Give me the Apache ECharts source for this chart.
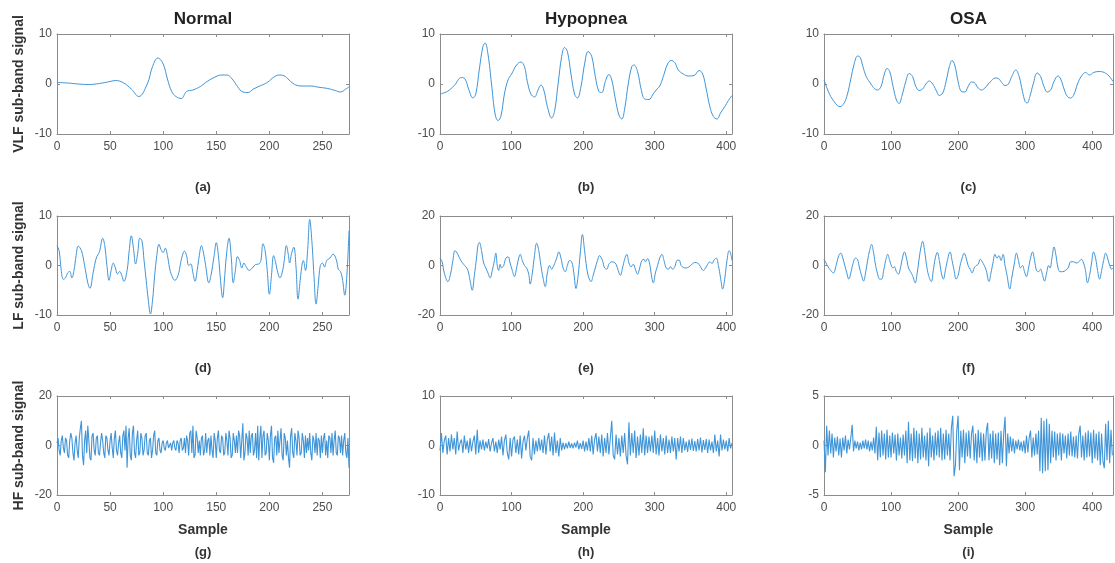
<!DOCTYPE html>
<html>
<head>
<meta charset="utf-8">
<script src="https://cdn.jsdelivr.net/npm/echarts@6/dist/echarts.min.js"></script>
<style>
html,body{margin:0;padding:0;background:#fff;}
#main{width:1115px;height:563px;}
</style>
</head>
<body>
<div id="main"></div>
<script>
// column titles, row names, panel letters
var colTitles = ['Normal', 'Hypopnea', 'OSA'];
var rowNames = ['VLF sub-band signal', 'LF sub-band signal', 'HF sub-band signal'];
var panelTags = ['(a)', '(b)', '(c)', '(d)', '(e)', '(f)', '(g)', '(h)', '(i)'];

// sample length of each record (x axis end)
var sampleEnd = [275, 408, 431];
var xTickStep = [50, 100, 100];
// y limits per row/column
var yLimit = [[10, 10, 10], [10, 20, 20], [20, 10, 5]];

// VLF sub-band, [sample, value]
var vlfNormal = [[0,0.3],[10,0.2],[20,0],[30,-0.1],[40,0.1],[50,0.5],[55,0.7],[62,0.3],[70,-1],[77,-2.5],[85,0],[90,3.5],[95,5.2],[100,4],[104,1],[108,-1.5],[112,-2.5],[117,-2.9],[122,-1.5],[128,-1.2],[135,-0.5],[140,0.3],[148,1.3],[155,1.8],[160,1.8],[165,1],[170,-0.5],[175,-1.6],[180,-1.7],[185,-1],[192,-0.3],[198,0.3],[205,1.5],[210,1.8],[215,1.5],[220,0.5],[225,-0.2],[230,-0.4],[240,-0.4],[245,-0.6],[255,-0.9],[262,-1.3],[267,-1.6],[272,-1],[275,-0.6]];
var vlfHypo = [[0,-2],[10,-1.5],[20,-0.3],[30,1.3],[35,1],[40,-1],[46,-2.8],[50,-2],[55,3],[60,7.5],[63,8.2],[67,6],[72,0],[77,-6],[81,-7.3],[85,-6.5],[90,-2],[95,0.8],[100,2],[107,3.8],[113,4.4],[118,3.5],[122,0.5],[127,-2],[132,-2.6],[137,-1.2],[141,-0.2],[145,-1.2],[150,-4.5],[156,-6.8],[160,-5.5],[165,0],[170,5.5],[174,7.3],[178,6.5],[183,2],[188,-2],[192,-2.8],[197,-0.5],[202,4],[207,6.5],[212,5.5],[217,1.5],[222,-1.5],[226,-1.7],[231,0.5],[236,1.9],[240,0.8],[245,-3],[250,-6.2],[254,-7],[258,-5],[263,0],[268,3.5],[271,3.8],[276,2.5],[281,-1],[286,-3],[292,-3.1],[297,-2.2],[302,-1.2],[307,-0.4],[312,1.5],[318,4],[323,4.7],[328,4.3],[333,2.8],[340,2],[347,1.6],[355,1.7],[362,2.7],[367,2],[372,-1],[377,-4.5],[382,-6.5],[387,-7],[392,-5.8],[398,-4.5],[403,-3.3],[408,-2.3]];
var vlfOsa = [[0,0.8],[5,-1],[10,-2.5],[15,-3.5],[20,-4.3],[24,-4.5],[30,-3.8],[35,-2],[40,1],[45,4],[50,5.6],[54,5.3],[58,3.5],[63,1.5],[70,0],[75,-0.9],[80,-1.2],[85,-0.5],[90,2],[94,3.1],[98,2.5],[103,-0.5],[108,-3.2],[112,-3.9],[116,-2.5],[122,0.5],[127,2.1],[132,1.5],[137,-0.5],[142,-1.3],[147,-1],[152,0],[157,0.6],[162,0],[167,-1.2],[172,-2.3],[177,-1.8],[182,0.5],[187,3.5],[191,4.7],[195,3.8],[200,0.5],[205,-1.5],[210,-1.6],[215,-0.5],[220,0.4],[224,0.3],[230,-0.8],[235,-1.2],[240,-0.8],[245,0],[250,0.7],[255,1.2],[260,1.1],[265,0.3],[270,-0.3],[275,0],[280,1.5],[286,2.8],[291,1.5],[296,-1.5],[300,-3.5],[303,-3.8],[307,-2.5],[312,0],[318,2.2],[323,1.5],[328,-0.5],[333,-1.6],[338,-1.2],[343,0.5],[349,1.6],[353,1],[358,-1],[363,-2.5],[368,-2.8],[373,-2],[378,0],[384,1.6],[390,2.3],[396,1.8],[402,2.3],[410,2.5],[418,2.3],[425,1.6],[431,0.5]];

// LF sub-band, [sample, value]
var lfNormal = [[0,4],[2,3],[4,-1],[6,-2.8],[8,-2.5],[10,-1.5],[12,-1.2],[14,-2.5],[16,-1],[18,2],[20,3.9],[23,3],[26,0],[29,-3.5],[31,-4.6],[34,-1.5],[37,1.5],[40,2.8],[43,5.5],[45,4],[47,0],[49,-3],[51,-1],[53,0.5],[55,-0.5],[57,-1.7],[59,-1.2],[61,-2],[63,-3.2],[66,-1],[68,3],[70,6],[72,3.5],[74,0.3],[76,2.5],[78,5.5],[80,5],[82,1],[84,-3],[86,-7],[88,-9.8],[90,-7],[92,-2],[94,2],[96,4.3],[98,3.2],[100,2.6],[102,3.5],[104,2],[106,-0.5],[108,-2],[111,-3],[114,-2],[116,0],[118,2],[120,2.9],[122,2],[124,0],[126,0.3],[128,-1.5],[130,-3.2],[132,-1],[134,2],[136,4],[138,2.5],[140,0],[143,-3.5],[145,-2],[148,2],[150,4.6],[152,2],[154,-3],[156,-6.5],[158,-2],[160,3],[162,5.5],[164,2],[166,-3.5],[168,-1],[170,1.8],[172,1],[174,-0.5],[176,0.5],[178,-0.2],[181,-1],[184,-0.5],[187,0.2],[190,0.3],[192,1],[194,4.4],[196,3],[198,-1],[200,-5.8],[202,-2],[204,2],[206,0.5],[208,-1.5],[210,-2.5],[212,-1.5],[214,1],[216,4],[218,2],[219,0.5],[221,2.5],[223,3.7],[225,0],[227,-6.8],[229,-3],[231,0.5],[232,1],[234,-1],[236,3],[238,9.3],[240,5],[242,-2],[244,-7.8],[246,-4],[248,0],[250,0.5],[252,-0.3],[254,1],[257,1.5],[260,2.3],[263,1.2],[265,-0.8],[267,-1.2],[269,-3],[271,-6],[273,-2],[275,7]];
var lfHypo = [[0,3],[3,1.5],[6,-3],[11,-6.5],[15,-3],[18,2],[21,6],[25,4.5],[29,2],[33,0.5],[36,-0.5],[39,-2],[42,-6],[45,-10],[48,-4],[51,3],[53,8],[55,9.3],[58,6],[61,1],[64,-1],[67,-3],[70,-5],[73,-2],[76,2],[78,5],[80,0],[82,-2],[84,0.5],[86,-1],[89,0],[92,3],[95,3.5],[98,1],[101,-2],[104,-4.5],[107,-1],[110,3],[112,4.5],[115,2],[118,0],[121,-1],[124,-3.5],[126,-7.5],[129,-3],[132,4],[135,9],[138,6],[141,0],[144,-5],[147,-8.5],[150,-3],[153,0],[156,-1.5],[159,0],[163,3],[166,5.5],[169,3],[172,-1],[175,-2.5],[178,0],[181,2],[184,1.5],[187,-3],[190,-9.3],[193,-4],[196,5],[199,12.5],[202,6],[205,-1],[208,-5],[211,-6.5],[214,-4],[217,-1],[220,2],[223,4],[227,2],[230,-1],[233,-1.5],[236,0.5],[240,1.5],[243,1.3],[246,0.5],[249,-2],[252,-4],[255,-1],[258,2.5],[261,4.5],[264,1],[267,-0.5],[270,0.5],[273,-1.5],[276,-3.5],[279,-1],[282,2],[285,2.5],[287,1.5],[290,2.8],[293,0.5],[296,-5],[298,-7],[301,-3],[304,0],[307,3],[310,4.5],[313,2],[316,-1],[319,-1.5],[322,-0.5],[325,-1.5],[328,-0.5],[331,2],[334,2.2],[337,0],[340,-0.8],[344,-1],[348,-0.5],[352,0.5],[356,1.2],[360,1],[364,-0.5],[368,-2],[371,-1],[374,0.5],[377,1.5],[380,0.8],[383,2.2],[386,3],[389,0],[392,-5],[395,-9.5],[398,-5],[401,2],[404,6],[406,5],[408,2]];
var lfOsa = [[0,2.5],[3,1],[6,-0.5],[10,-2],[14,-3],[18,0],[22,4],[25,5],[28,3],[31,0],[34,-3],[37,-5.5],[40,-3],[43,0.5],[47,3],[50,2.5],[53,-1],[56,-4],[59,-6.3],[62,-3],[65,2],[68,6],[71,8.5],[74,5],[77,0],[80,-3.5],[83,-5.5],[86,-5.5],[89,-2],[92,2],[95,4.5],[98,2],[101,-0.5],[103,-1],[105,-0.5],[108,-2.5],[111,-3.5],[114,-1],[117,3],[120,5.5],[123,3],[126,-1],[129,-2.5],[132,-4],[136,-7],[139,-3],[142,3],[145,8],[147,9.8],[150,6],[153,0],[156,-4],[160,-6.5],[163,-2],[166,3],[169,5.3],[172,2],[175,-3],[178,-5.5],[181,-2],[184,2],[188,5.5],[191,2],[194,-2],[197,-5.5],[200,-4],[203,0],[206,3],[209,5],[212,3],[215,0],[218,-1.5],[221,-3],[224,-1],[227,0],[230,0.5],[233,2.5],[236,1.5],[239,0],[242,-2],[246,-6.5],[249,-3],[252,1],[255,4.5],[258,3],[261,4],[264,2],[267,4.5],[270,0],[273,-4],[277,-9.5],[280,-5],[284,1],[287,5],[290,2],[293,-1],[296,0],[299,-2.5],[302,-4.5],[305,-1],[308,3],[311,5.5],[314,2],[317,-2],[320,-2.5],[323,-1.5],[326,-4],[329,-6.3],[332,-3],[335,0],[337,-1],[340,3],[343,7.5],[346,4],[349,-1],[352,-2.5],[356,-2.5],[360,-2],[364,-1],[368,1.5],[372,1.5],[376,1],[380,1.5],[384,2.5],[387,1],[390,-2],[393,-7],[396,-4],[399,1],[402,5.5],[405,3],[408,-2],[411,-5.5],[414,-2],[417,2],[420,5],[423,3],[426,0],[429,-1.5],[431,-1]];

// HF sub-band, values read every sample (Normal) / every 2nd sample
var hfNormalStep = 1;
var hfNormal = [
	1,3,-2,-4,2,4,-1,-3,3,2,  -4,-5,2,5,3,-3,-6,1,4,-2,
	-5,3,7,10,-4,-8,2,6,-3,8,  2,-5,-6,4,5,-2,-4,3,4,-3,
	-4,1,5,2,-3,-5,4,3,-2,-4,  2,5,-1,-5,3,6,-2,-4,1,4,
	-3,-5,4,6,-2,8,-9,3,7,-4,  -6,5,8,-3,-5,2,6,-4,-3,5,
	3,-4,-2,4,5,-3,-4,2,3,-5,  -2,4,6,-3,-4,2,3,-2,-3,1,
	2,-1,-2,1,2,-1,0,1,-2,1,  2,-1,-2,2,1,-3,2,3,-2,-1,
	3,-3,4,2,-4,5,6,-3,8,-5,  -4,6,3,-3,2,-4,3,4,-4,-2,
	5,-3,2,3,-4,4,-2,-5,5,2,  -5,3,6,-2,-3,4,3,-4,-3,5,
	2,-4,6,3,-5,-4,5,2,-3,4,  -3,6,4,-5,2,9,-6,-3,5,3,
	-4,6,-3,4,5,-4,-2,5,-5,8,  -6,3,8,-5,4,6,-4,-3,5,2,
	-6,4,8,-5,-7,3,4,-4,6,-3,  2,7,-4,-6,5,3,-4,2,-5,-9,
	4,7,-3,-5,5,2,-4,6,3,-4,  -3,5,2,-5,4,-3,3,-2,5,-3,
	-6,4,2,-3,5,-4,3,2,-5,4,  -3,3,5,-4,2,-5,4,3,-3,5,
	-4,2,6,-3,-4,4,3,-3,4,-4,  2,5,-3,-5,3,-9];
var hfHypoStep = 2;
var hfHypo = [
	-1,2.5,-1.5,1,2,-1.8,1.5,-1.2,2.2,-0.8,  1.5,-1.8,2.8,-1,0.5,1.2,-1.5,2,-0.8,1,
	-1.5,1.5,-1.2,0.8,2,-1.8,3.2,-1.5,1,-0.8,  1.2,-1,0.8,-0.6,1.3,-1.2,0.5,1.5,-1.2,0.8,
	-1.5,1.2,-0.8,1.8,-2,1,2.2,-1.5,-2.8,1.5,  -2.2,1.2,1.8,-1.5,1.2,-1.8,2,-2.6,0.8,2,
	-1,1.5,3,-2.2,-3,1.5,-1.8,1,-1.2,1.5,  -1,1.2,-1.5,2,-1.8,1.2,2.5,-1.2,1.8,-2,
	2.6,-1.5,1,-2.2,1.5,-1,0.6,-0.8,0.5,-0.6,  0.8,-0.5,0.4,-0.6,0.6,-0.4,1,-0.8,0.5,-0.7,
	1,-1.2,0.8,-1,1.5,-1.2,2,-1.8,1.2,2.5,  -1.2,1.8,-1.5,2.2,-2.2,1.5,-1.5,2.5,-1.8,1.5,
	5,-2,-2.8,2.2,-1.8,1.5,-2.2,2,-1.5,2.5,  -2,-3.8,4.7,-2,2.5,-1.5,3,-2.5,1.8,-2,
	2.2,-1.5,3.5,-2,2,-1.5,1.8,-1.2,2,-1.5,  3,-1.8,1.5,-2,2.2,-1.2,1.5,-1.8,2,-1.5,
	1.2,-1.5,1.8,-1.2,1.5,-2.8,1.5,-1.2,1.8,-1.5,  1.5,-1,0.8,-1.3,1.2,-0.9,1.4,-1.1,0.9,-1.2,
	1.3,-1,1.6,-1.4,1.1,-0.9,1.3,-1.5,1.2,-1,  0.8,-1.5,2.2,-1.2,1,-2.2,2.2,-1,1.2,-0.8,
	1,-1.2,1.5,-0.6,0.5];
var hfOsaStep = 2;
var hfOsa = [
	0.5,-2.7,2,-1,1.5,-0.8,1.2,-1.2,0.8,-0.6,  0.9,-1,0.7,-1.2,0.8,-0.5,1,-0.8,0.6,-0.4,
	0.8,2.1,-0.6,0.5,-0.3,0.4,-0.5,0.3,-0.4,0.5,  -0.3,0.6,-0.4,0.5,-0.6,0.4,-0.5,0.8,-0.8,1.9,
	-1.5,1.3,-1.2,1.5,-1,1.2,-1.4,1.6,-1.2,1,  -1.2,1.3,-0.8,1.1,-1.5,1.2,-1,0.8,-1.3,1.1,
	-1,1.5,-1.8,2.4,-1.5,1.2,-1.6,1.8,-1.3,1.5,  -1.8,1.2,-1.4,1.8,-1.2,1,-1.5,1.3,-2.1,1.8,
	-1.2,1,-1.5,1.3,-1,1.5,-1.2,1.8,-1.5,1.2,  -1.4,1.6,-1,1.2,-1.5,1.8,3,-3.1,-2,1.5,
	3,-2.5,1.5,-1.2,1.6,-1.8,1.3,-1.1,1.5,-1.3,  1.2,2,-1.5,1.2,-1.8,1.6,-1.2,1.3,-1.6,1.2,
	-1.5,1.4,2.3,-1.5,1.2,-1.3,1.5,-1.8,1.2,-1.4,  1.3,-2,1.5,-1.8,1.2,2.9,-2.1,1.2,-0.8,0.9,
	-0.6,0.7,-0.8,0.5,-0.4,0.6,-0.5,0.4,-0.6,0.5,  -0.8,1,-0.7,0.8,1.5,-1.2,0.8,-1,1.2,-0.9,
	1.5,-2.6,2.8,-2.8,2.5,-2.6,2.7,-2.5,2.2,-1.8,  1.5,-1.2,1.4,-1.5,1.2,-1,1.3,-1.5,1.2,-0.8,
	1,-1.3,1.2,-1,1.4,-1.1,0.9,-1.2,1,-1.3,  1.2,2,-1.2,1,-1.5,1.3,-1.2,1.5,-1.1,1.3,
	-1.8,1.6,-1.3,1.2,-1.5,1.4,-2,1.2,-1.6,-2.3,  2.2,-1.5,2.5,-1.8,1.6,-1];

var FONT = '"Liberation Sans", Arial, sans-serif';
var LINE = '#3f95d8';
var FRAME = '#8c8c8c';
var LABEL = '#4d4d4d';

// box positions of the 3 columns / 3 rows (px)
var colLeft = [57, 440, 824];
var colWidth = [292, 292, 289];
var rowTop = [34, 216, 396];
var rowHeight = [100, 99, 99];

function stepPairs(vals, step){
	var out = [];
	for(var i=0;i<vals.length;i++){
		out.push([i*step, vals[i]]);
	}
	return out;
}

var panelData = [
	vlfNormal, vlfHypo, vlfOsa,
	lfNormal, lfHypo, lfOsa,
	stepPairs(hfNormal, hfNormalStep), stepPairs(hfHypo, hfHypoStep), stepPairs(hfOsa, hfOsaStep)
];

var grids = [], xAxes = [], yAxes = [], series = [], texts = [];

for(var r=0;r<3;r++){
	for(var c=0;c<3;c++){
		var k = r*3+c;
		var lim = yLimit[r][c];
		grids.push({left: colLeft[c], top: rowTop[r], width: colWidth[c], height: rowHeight[r], containLabel: false});

		var xb = {
			type: 'value', gridIndex: k, min: 0, max: sampleEnd[c], interval: xTickStep[c], position: 'bottom',
			axisLine: {show: true, onZero: false, lineStyle: {color: FRAME, width: 1}},
			axisTick: {show: true, inside: true, length: 3, lineStyle: {color: FRAME}},
			axisLabel: {show: true, color: LABEL, fontSize: 12, fontFamily: FONT, margin: 7, showMaxLabel: false},
			splitLine: {show: false}
		};
		if(r==2){
			xb.name = 'Sample';
			xb.nameLocation = 'middle';
			xb.nameGap = 28;
			xb.nameTextStyle = {color: '#333', fontSize: 14, fontWeight: 'bold', fontFamily: FONT};
		}
		xAxes.push(xb);

		var yl = {
			type: 'value', gridIndex: k, min: -lim, max: lim, interval: lim, position: 'left',
			axisLine: {show: true, onZero: false, lineStyle: {color: FRAME, width: 1}},
			axisTick: {show: true, inside: true, length: 3, lineStyle: {color: FRAME}},
			axisLabel: {show: true, color: LABEL, fontSize: 12, fontFamily: FONT, margin: 5},
			splitLine: {show: false}
		};
		if(c==0){
			yl.name = rowNames[r];
			yl.nameLocation = 'middle';
			yl.nameGap = 31;
			yl.nameTextStyle = {color: '#333', fontSize: 14, fontWeight: 'bold', fontFamily: FONT};
		}
		yAxes.push(yl);

		series.push({
			type: 'line', xAxisIndex: k, yAxisIndex: k,
			data: panelData[k],
			showSymbol: false, symbol: 'none',
			smooth: r<2 ? 0.4 : false,
			lineStyle: {color: LINE, width: r<2 ? 1 : 1.1},
			silent: true, animation: false
		});

		// panel letter under each box
		texts.push({
			type: 'text', x: colLeft[c] + colWidth[c]/2, y: rowTop[r] + rowHeight[r] + (r==2 ? 57 : 53),
			style: {text: panelTags[k], fill: '#333', font: 'bold 13px ' + FONT, align: 'center', verticalAlign: 'middle'}
		});
	}
}

// column titles
for(var c2=0;c2<3;c2++){
	texts.push({
		type: 'text', x: colLeft[c2] + colWidth[c2]/2, y: 19,
		style: {text: colTitles[c2], fill: '#222', font: 'bold 17px ' + FONT, align: 'center', verticalAlign: 'middle'}
	});
}

// top / right frame with inner ticks
for(var k2=0;k2<9;k2++){
	var xt = echarts.util.clone(xAxes[k2]);
	xt.position = 'top'; xt.axisLabel = {show: false}; delete xt.name;
	xAxes.push(xt);
	var yr = echarts.util.clone(yAxes[k2]);
	yr.position = 'right'; yr.axisLabel = {show: false}; delete yr.name;
	yAxes.push(yr);
}

var myChart = echarts.init(document.getElementById('main'), null, {renderer: 'canvas'});
myChart.setOption({
	animation: false,
	backgroundColor: '#fff',
	grid: grids,
	xAxis: xAxes,
	yAxis: yAxes,
	series: series,
	graphic: texts
});
</script>
</body>
</html>
